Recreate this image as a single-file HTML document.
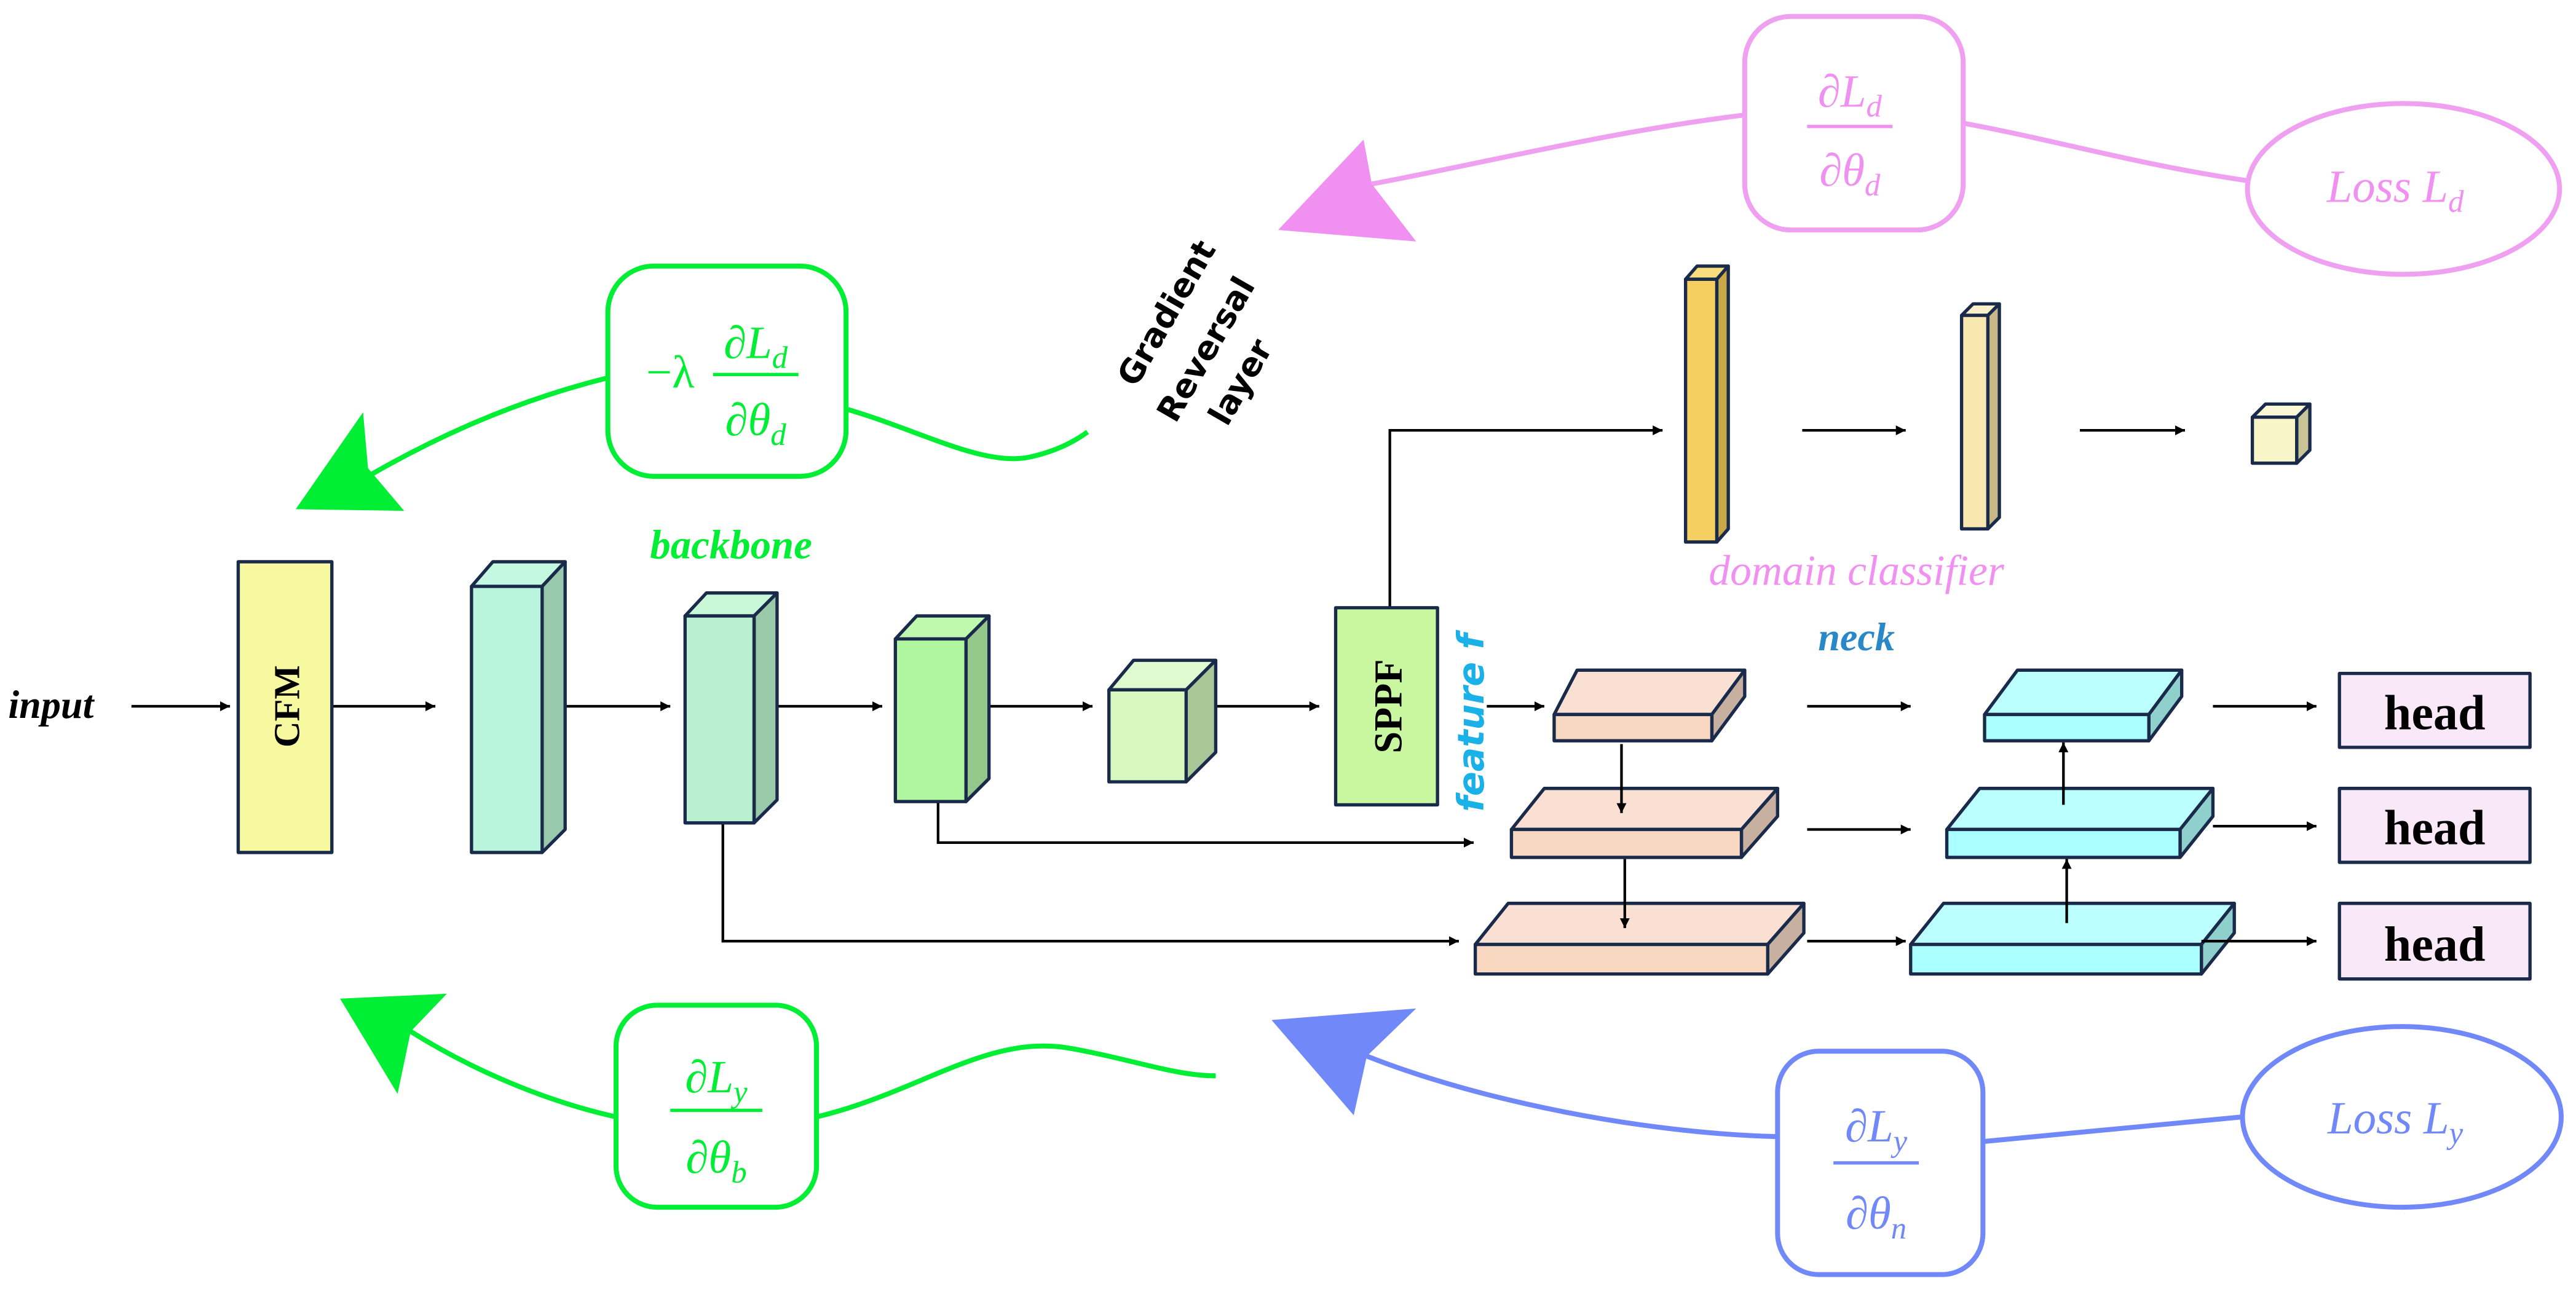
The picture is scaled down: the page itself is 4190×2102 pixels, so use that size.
<!DOCTYPE html>
<html><head><meta charset="utf-8"><style>html,body{margin:0;padding:0;background:#fff}svg{display:block}</style></head>
<body>
<svg width="4190" height="2102" viewBox="0 0 1568 786.6" xmlns="http://www.w3.org/2000/svg">
<defs>
<marker id="ar" viewBox="0 0 10 10" refX="10" refY="5" markerWidth="6" markerHeight="6" markerUnits="userSpaceOnUse" orient="auto"><path d="M0,0L10,5L0,10z" fill="#000"/></marker>
</defs>
<rect width="1568" height="787" fill="#fff"/>
<g stroke="#000" stroke-width="1.6" fill="none" marker-end="url(#ar)">
<line x1="80" y1="430" x2="140" y2="430"/>
<line x1="202" y1="430" x2="265" y2="430"/>
<line x1="344" y1="430" x2="408" y2="430"/>
<line x1="473" y1="430" x2="537" y2="430"/>
<line x1="602" y1="430" x2="665" y2="430"/>
<line x1="740" y1="430" x2="803" y2="430"/>
<polyline points="846,370 846,262 1012,262"/>
<line x1="1097" y1="262" x2="1160" y2="262"/>
<line x1="1266" y1="262" x2="1330" y2="262"/>
<polyline points="440,501 440,573 888,573"/>
<polyline points="571,488 571,513 897,513"/>
<line x1="905" y1="430" x2="940" y2="430"/>
<line x1="1100" y1="430" x2="1163" y2="430"/>
<line x1="1100" y1="505" x2="1163" y2="505"/>
<line x1="1100" y1="573" x2="1160" y2="573"/>
<line x1="1347" y1="430" x2="1410" y2="430"/>
<line x1="1347" y1="503" x2="1410" y2="503"/>
</g>
<g stroke="#1a2a4a" stroke-width="2" stroke-linejoin="round">
<rect x="145" y="342" width="57" height="177" fill="#f7f9a0"/>
<polygon points="287,357 300,342 344,342 330,357" fill="#c4f8e0"/>
<polygon points="330,357 344,342 344,505 330,519" fill="#99c9ac"/>
<rect x="287" y="357" width="43" height="162" fill="#b8f5dc"/>
<polygon points="417,375 430,361 473,361 459,375" fill="#c8f8d8"/>
<polygon points="459,375 473,361 473,487 459,501" fill="#99c9a8"/>
<rect x="417" y="375" width="42" height="126" fill="#b8f0d0"/>
<polygon points="545,389 558,375 602,375 588,389" fill="#c0f8b0"/>
<polygon points="588,389 602,375 602,474 588,488" fill="#94c78a"/>
<rect x="545" y="389" width="43" height="99" fill="#b0f5a0"/>
<polygon points="675,420 690,402 740,402 722,420" fill="#e0fad0"/>
<polygon points="722,420 740,402 740,458 722,476" fill="#a8c898"/>
<rect x="675" y="420" width="47" height="56" fill="#d8f8c0"/>
<rect x="813" y="370" width="62" height="120" fill="#c8f7a0"/>
<polygon points="1026,170 1033,162 1052,162 1045,170" fill="#f8dc80"/>
<polygon points="1045,170 1052,162 1052,322 1045,330" fill="#c8a848"/>
<rect x="1026" y="170" width="19" height="160" fill="#f5d060"/>
<polygon points="1194,192 1201,185 1217,185 1210,192" fill="#faf0c8"/>
<polygon points="1210,192 1217,185 1217,315 1210,322" fill="#c8b888"/>
<rect x="1194" y="192" width="16" height="130" fill="#f8e8b0"/>
<polygon points="1371,254 1379,246 1406,246 1398,254" fill="#fbf8d8"/>
<polygon points="1398,254 1406,246 1406,274 1398,282" fill="#c8c498"/>
<rect x="1371" y="254" width="27" height="28" fill="#f8f5c8"/>
<polygon points="946,435 960,408 1062,408 1042,435" fill="#f9e0d2"/>
<polygon points="1042,435 1062,408 1062,424 1042,451" fill="#c8b0a0"/>
<rect x="946" y="435" width="96" height="16" fill="#f8d8c0"/>
<polygon points="920,505 940,480 1082,480 1060,505" fill="#f9e0d2"/>
<polygon points="1060,505 1082,480 1082,497 1060,522" fill="#c8b0a0"/>
<rect x="920" y="505" width="140" height="17" fill="#f8d8c0"/>
<polygon points="898,575 918,550 1098,550 1076,575" fill="#f9e0d2"/>
<polygon points="1076,575 1098,550 1098,568 1076,593" fill="#c8b0a0"/>
<rect x="898" y="575" width="178" height="18" fill="#f8d8c0"/>
<polygon points="1208,435 1228,408 1328,408 1308,435" fill="#bbffff"/>
<polygon points="1308,435 1328,408 1328,424 1308,451" fill="#90d0cc"/>
<rect x="1208" y="435" width="100" height="16" fill="#aaffff"/>
<polygon points="1185,505 1205,480 1347,480 1327,505" fill="#bbffff"/>
<polygon points="1327,505 1347,480 1347,497 1327,522" fill="#90d0cc"/>
<rect x="1185" y="505" width="142" height="17" fill="#aaffff"/>
<polygon points="1163,575 1183,550 1360,550 1340,575" fill="#bbffff"/>
<polygon points="1340,575 1360,550 1360,568 1340,593" fill="#90d0cc"/>
<rect x="1163" y="575" width="177" height="18" fill="#aaffff"/>
<rect x="1424" y="410" width="116" height="45" fill="#f8e8f8"/>
<rect x="1424" y="480" width="116" height="45" fill="#f8e8f8"/>
<rect x="1424" y="550" width="116" height="46" fill="#f8e8f8"/>
</g>
<g stroke="#000" stroke-width="1.6" fill="none" marker-end="url(#ar)">
<line x1="987" y1="453" x2="987" y2="495"/>
<line x1="989" y1="523" x2="989" y2="565"/>
<line x1="1256" y1="490" x2="1256" y2="452"/>
<line x1="1258" y1="562" x2="1258" y2="523"/>
<line x1="1340" y1="573" x2="1410" y2="573"/>
</g>
<g font-family="Liberation Serif, serif" font-weight="bold" fill="#000">
<text x="1482" y="444" font-size="30" text-anchor="middle">head</text>
<text x="1482" y="514" font-size="30" text-anchor="middle">head</text>
<text x="1482" y="585" font-size="30" text-anchor="middle">head</text>
<text transform="translate(182,430) rotate(-90)" font-size="22" text-anchor="middle">CFM</text>
<text transform="translate(853,430) rotate(-90)" font-size="24" text-anchor="middle">SPPF</text>
</g>
<text x="5" y="437" font-family="Liberation Serif, serif" font-style="italic" font-weight="bold" font-size="24">input</text>
<text x="445" y="340" font-family="Liberation Serif, serif" font-style="italic" font-weight="bold" font-size="25" fill="#00ee33" text-anchor="middle">backbone</text>
<text x="1130" y="356" font-family="Liberation Serif, serif" font-style="italic" font-size="26" fill="#f090f0" text-anchor="middle">domain classifier</text>
<text x="1130" y="396" font-family="Liberation Serif, serif" font-style="italic" font-weight="bold" font-size="24" fill="#2a88c8" text-anchor="middle">neck</text>
<text transform="translate(903,440) rotate(-90)" font-family="DejaVu Sans, sans-serif" font-style="italic" font-weight="bold" font-size="22" fill="#1ab0e8" text-anchor="middle">feature f</text>
<g font-family="DejaVu Sans, sans-serif" font-weight="bold" font-size="20" fill="#000" text-anchor="middle">
<text transform="translate(716,194) rotate(-60)">Gradient</text>
<text transform="translate(740,216) rotate(-60)">Reversal</text>
<text transform="translate(761,236) rotate(-60)">layer</text>
</g>
<g stroke="#00ee33" stroke-width="3" fill="none">
<rect x="370" y="162" width="145" height="128" rx="28"/>
<path d="M370,230 C310,245 262,268 224,290"/>
<path d="M515,249 C560,262 600,285 628,278 C645,274 655,268 662,263"/>
<rect x="375" y="612" width="122" height="123" rx="25"/>
<path d="M375,680 C330,670 285,650 250,628"/>
<path d="M497,680 C560,665 600,630 650,638 C690,645 715,655 740,655"/>
</g>
<polygon points="221,251 224,285 246,311 180,310" fill="#00ee33"/>
<polygon points="207,608 272,605 250,628 242,666" fill="#00ee33"/>
<g stroke="#f0a0f0" stroke-width="3" fill="none">
<rect x="1062" y="10" width="133" height="130" rx="28"/>
<ellipse cx="1463" cy="115" rx="95" ry="52"/>
<path d="M1368,110 C1300,100 1250,85 1195,75"/>
<path d="M1062,70 C980,80 900,100 835,112"/>
</g>
<polygon points="778,140 830,85 835,112 862,147" fill="#f090f0"/>
<g stroke="#7088f8" stroke-width="3" fill="none">
<rect x="1082" y="640" width="125" height="136" rx="25"/>
<ellipse cx="1462" cy="680" rx="97" ry="55"/>
<path d="M1365,680 L1207,695"/>
<path d="M1082,692 C1000,690 900,670 832,643"/>
</g>
<polygon points="774,621 862,614 832,643 824,679" fill="#7088f8"/>
<g font-family="Liberation Serif, serif" font-style="italic" font-size="28" text-anchor="middle">
<g fill="#00ee33">
<text x="408" y="236" font-style="normal">−λ</text>
<text x="460" y="218">∂L<tspan font-size="19" dy="6">d</tspan></text>
<line x1="434" y1="228" x2="486" y2="228" stroke="#00ee33" stroke-width="2"/>
<text x="460" y="265">∂θ<tspan font-size="19" dy="6">d</tspan></text>
<text x="436" y="665">∂L<tspan font-size="19" dy="6">y</tspan></text>
<line x1="408" y1="676" x2="464" y2="676" stroke="#00ee33" stroke-width="2"/>
<text x="436" y="714">∂θ<tspan font-size="19" dy="6">b</tspan></text>
</g>
<g fill="#f090f0">
<text x="1126" y="65">∂L<tspan font-size="19" dy="6">d</tspan></text>
<line x1="1100" y1="77" x2="1152" y2="77" stroke="#f090f0" stroke-width="2"/>
<text x="1126" y="113">∂θ<tspan font-size="19" dy="6">d</tspan></text>
<text x="1458" y="123">Loss  L<tspan font-size="19" dy="6">d</tspan></text>
</g>
<g fill="#7088f8">
<text x="1142" y="695">∂L<tspan font-size="19" dy="6">y</tspan></text>
<line x1="1116" y1="708" x2="1168" y2="708" stroke="#7088f8" stroke-width="2"/>
<text x="1142" y="748">∂θ<tspan font-size="19" dy="6">n</tspan></text>
<text x="1458" y="690">Loss  L<tspan font-size="19" dy="6">y</tspan></text>
</g>
</g>
</svg>
</body></html>
